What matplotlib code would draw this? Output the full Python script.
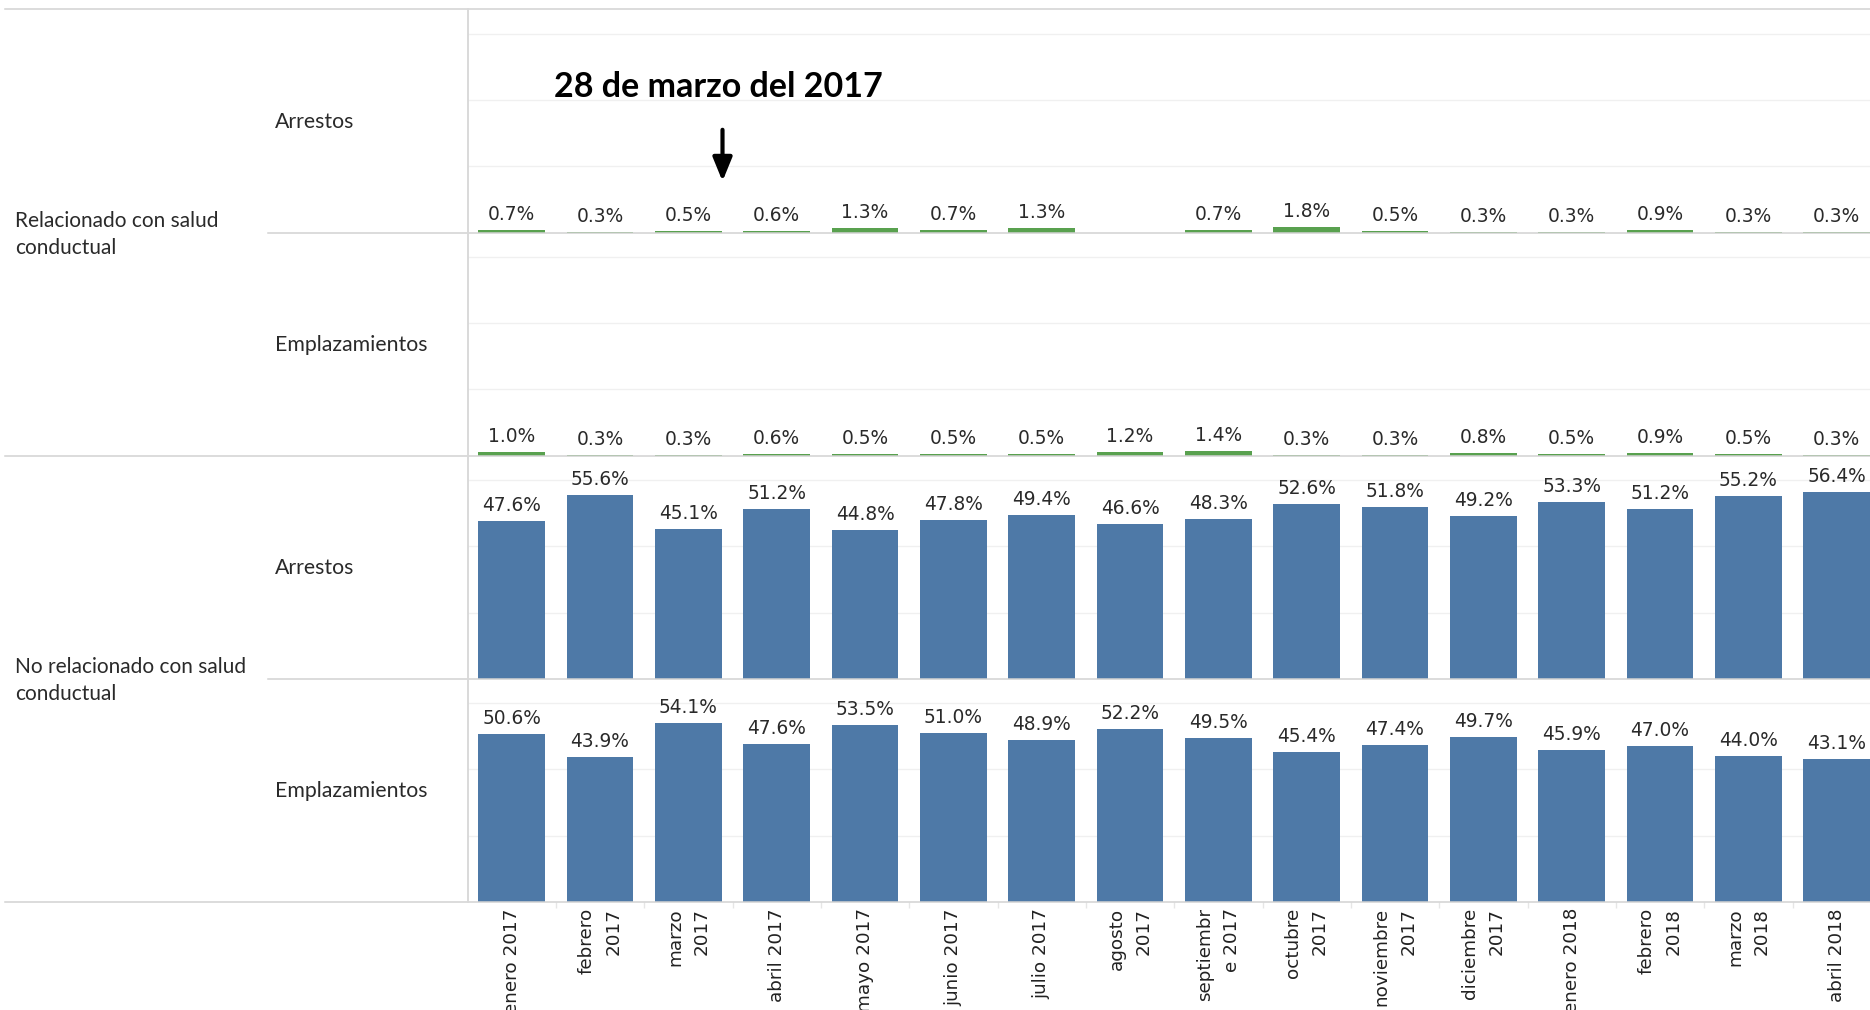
import numpy as np
import matplotlib
matplotlib.use("Agg")
import matplotlib.pyplot as plt
from matplotlib.lines import Line2D

# ---------------- data ----------------
months = ["enero 2017", "febrero\n2017", "marzo\n2017", "abril 2017", "mayo 2017",
          "junio 2017", "julio 2017", "agosto\n2017", "septiembr\ne 2017", "octubre\n2017",
          "noviembre\n2017", "diciembre\n2017", "enero 2018", "febrero\n2018",
          "marzo\n2018", "abril 2018"]

rel_arrestos = [0.7, 0.3, 0.5, 0.6, 1.3, 0.7, 1.3, np.nan, 0.7, 1.8, 0.5, 0.3, 0.3, 0.9, 0.3, 0.3]
rel_emplaz = [1.0, 0.3, 0.3, 0.6, 0.5, 0.5, 0.5, 1.2, 1.4, 0.3, 0.3, 0.8, 0.5, 0.9, 0.5, 0.3]
norel_arrestos = [47.6, 55.6, 45.1, 51.2, 44.8, 47.8, 49.4, 46.6, 48.3, 52.6, 51.8, 49.2,
                  53.3, 51.2, 55.2, 56.4]
norel_emplaz = [50.6, 43.9, 54.1, 47.6, 53.5, 51.0, 48.9, 52.2, 49.5, 45.4, 47.4, 49.7,
                45.9, 47.0, 44.0, 43.1]

outer_labels = ["Relacionado con salud\nconductual", "No relacionado con salud\nconductual"]
inner_labels = ["Arrestos", "Emplazamientos"]
annotation_text = "28 de marzo del 2017"

# ---------------- layout ----------------
W, H = 1870, 1010
fig = plt.figure(figsize=(W / 100, H / 100), dpi=100)
fig.patch.set_facecolor("white")

def fx(x):
    return x / W

def fy(y):
    return 1 - y / H

top_y = 9.3
panel_h = 223.2
ax_left = 467.5
bounds = [top_y + i * panel_h for i in range(5)]

BLUE = "#4E79A7"
GREEN = "#59A14F"
TXT = "#2a2a2a"

panels = [(rel_arrestos, GREEN), (rel_emplaz, GREEN),
          (norel_arrestos, BLUE), (norel_emplaz, BLUE)]

x = np.arange(len(months))
axes = []
for i, (vals, col) in enumerate(panels):
    t, b = bounds[i], bounds[i + 1]
    ax = fig.add_axes([fx(ax_left), fy(b), fx(W - ax_left), (b - t) / H])
    vals = np.array(vals, dtype=float) / 100.0
    ax.bar(x, np.nan_to_num(vals), width=0.755, color=col, zorder=2)
    for xi, v in zip(x, vals):
        if np.isnan(v):
            continue
        ax.annotate(f"{v * 100:.1f}%", (xi, v), xytext=(0, 7.2),
                    textcoords="offset points", ha="center", va="baseline",
                    fontsize=13.4, color=TXT, family="DejaVu Sans", zorder=3)
    ax.set_xlim(-0.5, 15.377)
    ax.set_ylim(0, 0.673)
    ax.set_yticks([0.2, 0.4, 0.6])
    ax.grid(axis="y", color="#f0f0f0", lw=1.0, zorder=0)
    ax.tick_params(axis="y", left=False, labelleft=False)
    for s in ax.spines.values():
        s.set_visible(False)
    ax.set_facecolor("none")
    if i < 3:
        ax.tick_params(axis="x", bottom=False, labelbottom=False)
    else:
        ax.set_xticks(x)
        ax.set_xticklabels(months, rotation=90, ha="center", va="top",
                           multialignment="right", linespacing=1.63,
                           fontsize=13.2, color="#222222", family="DejaVu Sans")
        ax.tick_params(axis="x", length=0, pad=4.3)
        ax.set_xticks(x[:-1] + 0.5, minor=True)
        ax.tick_params(axis="x", which="minor", length=4, color="#e6e6e6", width=1)
    axes.append(ax)

# ---------------- separators ----------------
lc = "#d2d2d2"
for yy, x0 in [(bounds[0], 5), (bounds[1], 268), (bounds[2], 5), (bounds[3], 268), (bounds[4], 5)]:
    fig.add_artist(Line2D([fx(x0), 1], [fy(yy), fy(yy)], color=lc, lw=1.1,
                          transform=fig.transFigure))
fig.add_artist(Line2D([fx(ax_left), fx(ax_left)], [fy(bounds[0]), fy(bounds[4])],
                      color="#d9d9d9", lw=1.4, transform=fig.transFigure))

# ---------------- row headers ----------------
for j, lab in enumerate(outer_labels):
    yc = bounds[2 * j + 1] + 2
    fig.text(fx(15), fy(yc), lab, ha="left", va="center", fontsize=15,
             family="Lato", color=TXT, linespacing=1.45)
for i in range(4):
    yc = (bounds[i] + bounds[i + 1]) / 2 + 1
    fig.text(fx(275), fy(yc), inner_labels[i % 2], ha="left", va="center",
             fontsize=15.3, family="Lato", color=TXT)

# ---------------- annotation ----------------
fig.text(fx(718), fy(87), annotation_text, ha="center", va="center",
         fontsize=24.5, family="Lato", fontweight="bold", color="black")
fig.add_artist(matplotlib.patches.FancyArrowPatch(
    (fx(722.5), fy(127)), (fx(722.5), fy(184)), transform=fig.transFigure,
    arrowstyle="-|>,head_length=1.1,head_width=0.45", mutation_scale=13,
    color="black", lw=3))

fig.savefig("out.png", dpi=100, facecolor="white")
